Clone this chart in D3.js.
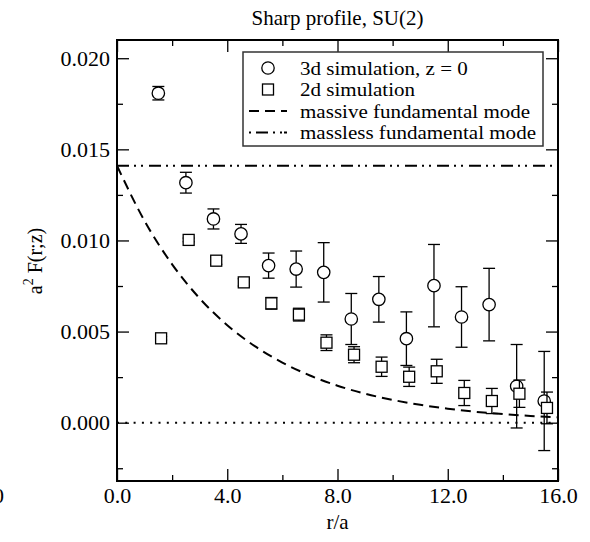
<!DOCTYPE html>
<html>
<head>
<meta charset="utf-8">
<script src="https://cdn.jsdelivr.net/npm/d3@7"></script>
<style>
  body { margin: 0; background: #fff; }
  svg { display: block; font-family: "Liberation Serif", "Times New Roman", serif; }
</style>
</head>
<body>
<svg id="chart"></svg>
<script>
// 3d simulation, z = 0 (circles)
let r3d = [1.5, 2.5, 3.5, 4.5, 5.5, 6.5, 7.5, 8.5, 9.5, 10.5, 11.5, 12.5, 13.5, 14.5, 15.5];
let f3d = [0.01808, 0.01317, 0.01118, 0.01036, 0.00862, 0.00843, 0.00825, 0.00569, 0.00677, 0.00461, 0.00752, 0.00580, 0.00648, 0.00200, 0.00119];
let e3d = [0.00037, 0.00057, 0.00055, 0.00052, 0.00069, 0.00099, 0.00163, 0.00140, 0.00125, 0.00147, 0.00226, 0.00166, 0.00199, 0.00229, 0.00272];

// 2d simulation (squares)
let r2d = [1.6, 2.6, 3.6, 4.6, 5.6, 6.6, 7.6, 8.6, 9.6, 10.6, 11.6, 12.6, 13.6, 14.6, 15.6];
let f2d = [0.00463, 0.01003, 0.00889, 0.00770, 0.00655, 0.00593, 0.00439, 0.00373, 0.00307, 0.00252, 0.00282, 0.00163, 0.00119, 0.00159, 0.00081];
let e2d = [0.0001, 0.0001, 0.0002, 0.0002, 0.00032, 0.00035, 0.00043, 0.00044, 0.00053, 0.00053, 0.00066, 0.00069, 0.00069, 0.00075, 0.00087];

// massive fundamental mode (dashed)
let rMassive = [0, 1, 2, 3, 4, 5, 6, 7, 8, 9, 10, 11, 12, 13, 14, 15, 16];
let fMassive = [0.01410, 0.01107, 0.00869, 0.00682, 0.00535, 0.00420, 0.00330, 0.00259, 0.00203, 0.00159, 0.00125, 0.00098, 0.00077, 0.00060, 0.00047, 0.00037, 0.00029];

// massless fundamental mode (dash-dot-dot, flat)
let masslessLevel = 0.0141;

let xTicks = [0, 4, 8, 12, 16];
let xMinor = [2, 6, 10, 14];
let yTicks = [0, 0.005, 0.010, 0.015, 0.020];
let yMinor = [-0.0025, 0.0025, 0.0075, 0.0125, 0.0175];
let legendLabels = ["3d simulation, z = 0", "2d simulation", "massive fundamental mode", "massless fundamental mode"];

let width = 590;
let height = 542;
let margin = { top: 40, left: 117, right: 32, bottom: 61 };
let bodyWidth = width - margin.left - margin.right;
let bodyHeight = height - margin.top - margin.bottom;

let svg = d3.select("#chart").attr("width", width).attr("height", height);
svg.append("rect").attr("width", width).attr("height", height).attr("fill", "#fff");

let xScale = d3.scaleLinear().domain([0, 16]).range([0, bodyWidth]);
let yScale = d3.scaleLinear().domain([-0.0032, 0.021]).range([bodyHeight, 0]);

let body = svg.append("g").attr("transform", `translate(${margin.left},${margin.top})`);

// axes: ticks point inward on all four sides
function styleAxis(g) {
    g.select(".domain").remove();
    g.selectAll("line").attr("stroke", "#000").attr("stroke-width", 1.3);
    g.selectAll("text").attr("fill", "#000").attr("font-size", 22)
        .attr("font-family", "'Liberation Serif', 'Times New Roman', serif");
}
body.append("g").attr("transform", `translate(0,${bodyHeight})`)
    .call(d3.axisBottom(xScale).tickValues(xTicks).tickSize(-12).tickPadding(6).tickFormat(d3.format(".1f")))
    .call(styleAxis);
body.append("g").attr("transform", `translate(0,${bodyHeight})`)
    .call(d3.axisBottom(xScale).tickValues(xMinor).tickSize(-6).tickFormat(""))
    .call(styleAxis);
body.append("g")
    .call(d3.axisTop(xScale).tickValues(xTicks).tickSize(-12).tickFormat(""))
    .call(styleAxis);
body.append("g")
    .call(d3.axisTop(xScale).tickValues(xMinor).tickSize(-6).tickFormat(""))
    .call(styleAxis);
body.append("g")
    .call(d3.axisLeft(yScale).tickValues(yTicks).tickSize(-12).tickPadding(7).tickFormat(d3.format(".3f")))
    .call(styleAxis);
body.append("g")
    .call(d3.axisLeft(yScale).tickValues(yMinor).tickSize(-6).tickFormat(""))
    .call(styleAxis);
body.append("g").attr("transform", `translate(${bodyWidth},0)`)
    .call(d3.axisRight(yScale).tickValues(yTicks).tickSize(-12).tickFormat(""))
    .call(styleAxis);
body.append("g").attr("transform", `translate(${bodyWidth},0)`)
    .call(d3.axisRight(yScale).tickValues(yMinor).tickSize(-6).tickFormat(""))
    .call(styleAxis);

// zero line (dotted)
body.append("line")
    .attr("x1", xScale(0)).attr("x2", xScale(16))
    .attr("y1", yScale(0)).attr("y2", yScale(0))
    .attr("stroke", "#000").attr("stroke-width", 2)
    .attr("stroke-dasharray", "2,6.3");

// massless mode (dash-dot-dot)
body.append("line")
    .attr("x1", xScale(0)).attr("x2", xScale(16))
    .attr("y1", yScale(masslessLevel)).attr("y2", yScale(masslessLevel))
    .attr("stroke", "#000").attr("stroke-width", 2)
    .attr("stroke-dasharray", "12,5,2,5,2,6");

// massive mode (dashed)
let massive = rMassive.map((r, i) => [r, fMassive[i]]);
body.append("path")
    .datum(massive)
    .attr("d", d3.line().x(d => xScale(d[0])).y(d => yScale(d[1])).curve(d3.curveMonotoneX))
    .attr("fill", "none").attr("stroke", "#000").attr("stroke-width", 2)
    .attr("stroke-dasharray", "10,6");

// error bars + markers
function drawSeries(rs, fs, es, shape) {
    let pts = rs.map((r, i) => ({ r: r, f: fs[i], e: es[i] }));
    let g = body.append("g");
    let bars = g.selectAll(".bar").data(pts).enter().append("g")
        .attr("stroke", "#000").attr("stroke-width", 1.3);
    bars.append("line")
        .attr("x1", d => xScale(d.r)).attr("x2", d => xScale(d.r))
        .attr("y1", d => yScale(d.f + d.e)).attr("y2", d => yScale(d.f - d.e));
    bars.append("line")
        .attr("x1", d => xScale(d.r) - 6).attr("x2", d => xScale(d.r) + 6)
        .attr("y1", d => yScale(d.f + d.e)).attr("y2", d => yScale(d.f + d.e));
    bars.append("line")
        .attr("x1", d => xScale(d.r) - 6).attr("x2", d => xScale(d.r) + 6)
        .attr("y1", d => yScale(d.f - d.e)).attr("y2", d => yScale(d.f - d.e));
    if (shape === "circle") {
        bars.append("circle")
            .attr("cx", d => xScale(d.r)).attr("cy", d => yScale(d.f)).attr("r", 6.2)
            .attr("fill", "#fff");
    } else {
        bars.append("rect")
            .attr("x", d => xScale(d.r) - 5.5).attr("y", d => yScale(d.f) - 5.5)
            .attr("width", 11).attr("height", 11)
            .attr("fill", "#fff");
    }
}
drawSeries(r3d, f3d, e3d, "circle");
drawSeries(r2d, f2d, e2d, "square");

// frame
body.append("rect")
    .attr("width", bodyWidth).attr("height", bodyHeight)
    .attr("fill", "none").attr("stroke", "#000").attr("stroke-width", 2);

// legend
let legend = svg.append("g").attr("transform", "translate(243,52)");
legend.append("rect").attr("width", 300).attr("height", 94)
    .attr("fill", "#fff").attr("stroke", "#333").attr("stroke-width", 1.5);
let rowY = [16, 37.5, 59, 80.5];
legend.append("circle").attr("cx", 25).attr("cy", rowY[0]).attr("r", 6.2)
    .attr("fill", "none").attr("stroke", "#000").attr("stroke-width", 1.3);
legend.append("rect").attr("x", 19.5).attr("y", rowY[1] - 5.5).attr("width", 11).attr("height", 11)
    .attr("fill", "none").attr("stroke", "#000").attr("stroke-width", 1.3);
legend.append("line").attr("x1", 6).attr("x2", 44).attr("y1", rowY[2]).attr("y2", rowY[2])
    .attr("stroke", "#000").attr("stroke-width", 2).attr("stroke-dasharray", "10,6");
legend.append("line").attr("x1", 6).attr("x2", 44).attr("y1", rowY[3]).attr("y2", rowY[3])
    .attr("stroke", "#000").attr("stroke-width", 2).attr("stroke-dasharray", "2,5,12,5,2,5,2");
// the original glyphs are slightly wider than Times, so stretch them a little
legend.selectAll(".lab").data(legendLabels).enter().append("text")
    .attr("transform", (d, i) => `translate(57,${rowY[i] + 6.5}) scale(1.12,1)`)
    .attr("font-size", 18.8).attr("fill", "#000")
    .text(d => d);

// title and axis labels
svg.append("text").attr("x", margin.left + bodyWidth / 2).attr("y", 25)
    .attr("text-anchor", "middle").attr("font-size", 21).text("Sharp profile, SU(2)");
svg.append("text").attr("x", margin.left + bodyWidth / 2).attr("y", 529)
    .attr("text-anchor", "middle").attr("font-size", 21).text("r/a");
let yl = svg.append("text").attr("transform", "translate(42,261) rotate(-90)")
    .attr("text-anchor", "middle").attr("font-size", 20);
yl.append("tspan").text("a");
yl.append("tspan").attr("dy", -9).attr("font-size", 14).text("2");
yl.append("tspan").attr("dy", 9).text(" F(r;z)");

// clipped label from the neighbouring panel
svg.append("text").attr("x", 4).attr("y", 503).attr("text-anchor", "end")
    .attr("font-size", 22).text("16.0");
</script>
</body>
</html>
